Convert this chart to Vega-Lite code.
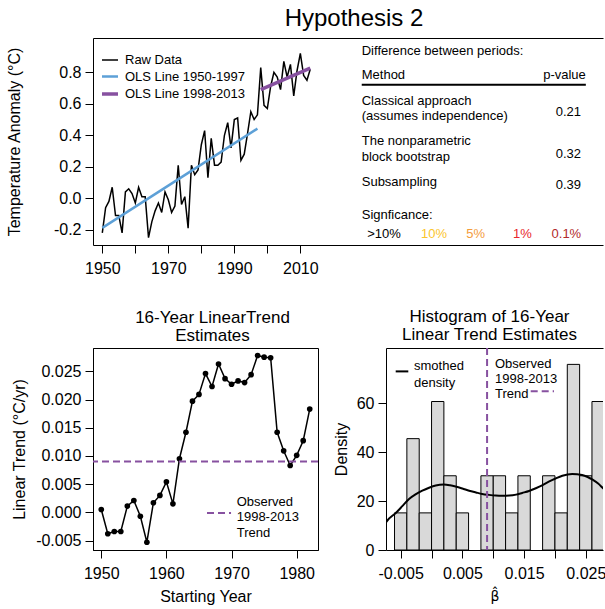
{
  "$schema": "https://vega.github.io/schema/vega-lite/v6.json",
  "padding": {"left": 5, "top": 7, "right": 0, "bottom": 0},
  "background": "white",
  "config": {
    "font": "Liberation Sans",
    "view": {"stroke": null},
    "axis": {"labelFont": "Liberation Sans", "titleFont": "Liberation Sans", "labelFontSize": 16, "titleFontSize": 16, "labelColor": "#000", "titleColor": "#000", "domainColor": "#000", "tickColor": "#000", "tickSize": 8, "grid": false, "titleFontWeight": "normal", "labelPadding": 4, "domainWidth": 1, "tickWidth": 1, "labelFlush": false, "labelOverlap": false, "labelSeparation": 0},
    "axisX": {"labelPadding": 7},
    "axisY": {"labelPadding": 4},
    "title": {"font": "Liberation Sans", "fontWeight": "normal", "color": "#000"},
    "text": {"font": "Liberation Sans", "color": "#000"},
    "legend": {"labelFont": "Liberation Sans", "labelColor": "#000"}
  },
  "bounds": "flush",
  "spacing": 103,
  "vconcat": [
    {
      "width": 510,
      "height": 207,
      "title": {"text": "Hypothesis 2", "fontSize": 24, "dx": 6, "offset": 7},
      "resolve": {"axis": {"x": "independent"}},
      "layer": [
        {
          "data": {"values": [
            {"series": "Raw Data", "year": 1950, "anomaly": -0.22},
            {"series": "Raw Data", "year": 1951, "anomaly": -0.06},
            {"series": "Raw Data", "year": 1952, "anomaly": -0.02},
            {"series": "Raw Data", "year": 1953, "anomaly": 0.07},
            {"series": "Raw Data", "year": 1954, "anomaly": -0.11},
            {"series": "Raw Data", "year": 1955, "anomaly": -0.11},
            {"series": "Raw Data", "year": 1956, "anomaly": -0.22},
            {"series": "Raw Data", "year": 1957, "anomaly": 0.04},
            {"series": "Raw Data", "year": 1958, "anomaly": 0.06},
            {"series": "Raw Data", "year": 1959, "anomaly": 0.03},
            {"series": "Raw Data", "year": 1960, "anomaly": -0.03},
            {"series": "Raw Data", "year": 1961, "anomaly": 0.07},
            {"series": "Raw Data", "year": 1962, "anomaly": 0.01},
            {"series": "Raw Data", "year": 1963, "anomaly": 0.01},
            {"series": "Raw Data", "year": 1964, "anomaly": -0.25},
            {"series": "Raw Data", "year": 1965, "anomaly": -0.15},
            {"series": "Raw Data", "year": 1966, "anomaly": -0.08},
            {"series": "Raw Data", "year": 1967, "anomaly": -0.03},
            {"series": "Raw Data", "year": 1968, "anomaly": -0.09},
            {"series": "Raw Data", "year": 1969, "anomaly": 0.04},
            {"series": "Raw Data", "year": 1970, "anomaly": -0.01},
            {"series": "Raw Data", "year": 1971, "anomaly": -0.09},
            {"series": "Raw Data", "year": 1972, "anomaly": -0.05},
            {"series": "Raw Data", "year": 1973, "anomaly": 0.21},
            {"series": "Raw Data", "year": 1974, "anomaly": -0.04},
            {"series": "Raw Data", "year": 1975, "anomaly": 0.01},
            {"series": "Raw Data", "year": 1976, "anomaly": -0.19},
            {"series": "Raw Data", "year": 1977, "anomaly": 0.21},
            {"series": "Raw Data", "year": 1978, "anomaly": 0.15},
            {"series": "Raw Data", "year": 1979, "anomaly": 0.18},
            {"series": "Raw Data", "year": 1980, "anomaly": 0.34},
            {"series": "Raw Data", "year": 1981, "anomaly": 0.43},
            {"series": "Raw Data", "year": 1982, "anomaly": 0.13},
            {"series": "Raw Data", "year": 1983, "anomaly": 0.38},
            {"series": "Raw Data", "year": 1984, "anomaly": 0.21},
            {"series": "Raw Data", "year": 1985, "anomaly": 0.21},
            {"series": "Raw Data", "year": 1986, "anomaly": 0.23},
            {"series": "Raw Data", "year": 1987, "anomaly": 0.40},
            {"series": "Raw Data", "year": 1988, "anomaly": 0.48},
            {"series": "Raw Data", "year": 1989, "anomaly": 0.32},
            {"series": "Raw Data", "year": 1990, "anomaly": 0.50},
            {"series": "Raw Data", "year": 1991, "anomaly": 0.51},
            {"series": "Raw Data", "year": 1992, "anomaly": 0.24},
            {"series": "Raw Data", "year": 1993, "anomaly": 0.28},
            {"series": "Raw Data", "year": 1994, "anomaly": 0.41},
            {"series": "Raw Data", "year": 1995, "anomaly": 0.55},
            {"series": "Raw Data", "year": 1996, "anomaly": 0.50},
            {"series": "Raw Data", "year": 1997, "anomaly": 0.53},
            {"series": "Raw Data", "year": 1998, "anomaly": 0.83},
            {"series": "Raw Data", "year": 1999, "anomaly": 0.59},
            {"series": "Raw Data", "year": 2000, "anomaly": 0.57},
            {"series": "Raw Data", "year": 2001, "anomaly": 0.71},
            {"series": "Raw Data", "year": 2002, "anomaly": 0.80},
            {"series": "Raw Data", "year": 2003, "anomaly": 0.77},
            {"series": "Raw Data", "year": 2004, "anomaly": 0.69},
            {"series": "Raw Data", "year": 2005, "anomaly": 0.87},
            {"series": "Raw Data", "year": 2006, "anomaly": 0.77},
            {"series": "Raw Data", "year": 2007, "anomaly": 0.85},
            {"series": "Raw Data", "year": 2008, "anomaly": 0.65},
            {"series": "Raw Data", "year": 2009, "anomaly": 0.81},
            {"series": "Raw Data", "year": 2010, "anomaly": 0.92},
            {"series": "Raw Data", "year": 2011, "anomaly": 0.78},
            {"series": "Raw Data", "year": 2012, "anomaly": 0.75},
            {"series": "Raw Data", "year": 2013, "anomaly": 0.82},
            {"series": "OLS Line 1950-1997", "year": 1950, "anomaly": -0.188},
            {"series": "OLS Line 1950-1997", "year": 1997, "anomaly": 0.442},
            {"series": "OLS Line 1998-2013", "year": 1998, "anomaly": 0.69},
            {"series": "OLS Line 1998-2013", "year": 2013, "anomaly": 0.827}
          ]},
          "mark": {"type": "line", "clip": true},
          "encoding": {
            "x": {"field": "year", "type": "quantitative", "scale": {"domain": [1947.18, 2101.7], "nice": false, "zero": false},
                  "axis": {"values": [1950, 1960, 1970, 1980, 1990, 2000, 2010], "labelExpr": "(datum.value - 1950) % 20 == 0 ? format(datum.value, 'd') : ''", "title": null, "labelOverlap": false}},
            "y": {"field": "anomaly", "type": "quantitative", "scale": {"domain": [-0.297, 1.018], "nice": false, "zero": false},
                  "axis": {"values": [-0.2, 0, 0.2, 0.4, 0.6, 0.8], "labelExpr": "replace(format(datum.value, '.1f'), '\u2212', '-')", "title": "Temperature Anomaly (°C)", "titleX": -79, "titleBaseline": "middle", "labelOverlap": false}},
            "color": {"field": "series", "type": "nominal",
                      "scale": {"domain": ["Raw Data", "OLS Line 1950-1997", "OLS Line 1998-2013"], "range": ["#000000", "#5DA0D7", "#8751A0"]},
                      "legend": {"title": null, "orient": "none", "legendX": 7, "legendY": 13, "symbolType": "stroke", "symbolSize": 256, "labelFontSize": 13, "labelOffset": 5, "rowPadding": 0, "padding": 0}},
            "strokeWidth": {"field": "series", "type": "nominal",
                      "scale": {"domain": ["Raw Data", "OLS Line 1950-1997", "OLS Line 1998-2013"], "range": [1.5, 3.5, 3.5]},
                      "legend": {"title": null, "orient": "none", "legendX": 7, "legendY": 13, "symbolType": "stroke", "symbolSize": 256, "labelFontSize": 13, "labelOffset": 5, "rowPadding": 0, "padding": 0}}
          }
        },
        {
          "data": {"values": [{}]},
          "mark": {"type": "rule", "strokeWidth": 2, "color": "#000"},
          "encoding": {
            "x": {"datum": 2028.6, "axis": {"orient": "top", "labels": false, "ticks": false, "title": null, "domain": true}},
            "x2": {"datum": 2096.5},
            "y": {"datum": 0.7215}
          }
        },
        {"data": {"values": [{}]}, "mark": {"type": "text", "align": "left", "baseline": "middle", "fontSize": 13, "text": "Difference between periods:"},
         "encoding": {"x": {"datum": 2028.6, "axis": null}, "y": {"datum": 0.934}}},
        {"data": {"values": [{}]}, "mark": {"type": "text", "align": "left", "baseline": "middle", "fontSize": 13, "text": "Method"},
         "encoding": {"x": {"datum": 2028.6, "axis": null}, "y": {"datum": 0.78}}},
        {"data": {"values": [{}]}, "mark": {"type": "text", "align": "right", "baseline": "middle", "fontSize": 13, "text": "p-value"},
         "encoding": {"x": {"datum": 2096.5, "axis": null}, "y": {"datum": 0.78}}},
        {"data": {"values": [{}]}, "mark": {"type": "text", "align": "left", "baseline": "middle", "fontSize": 13, "lineHeight": 14.5, "text": ["Classical approach", "(assumes independence)"]},
         "encoding": {"x": {"datum": 2028.6, "axis": null}, "y": {"datum": 0.617}}},
        {"data": {"values": [{}]}, "mark": {"type": "text", "align": "right", "baseline": "middle", "fontSize": 13, "text": "0.21"},
         "encoding": {"x": {"datum": 2095.06, "axis": null}, "y": {"datum": 0.547}}},
        {"data": {"values": [{}]}, "mark": {"type": "text", "align": "left", "baseline": "middle", "fontSize": 13, "lineHeight": 15.5, "text": ["The nonparametric", "block bootstrap"]},
         "encoding": {"x": {"datum": 2028.6, "axis": null}, "y": {"datum": 0.361}}},
        {"data": {"values": [{}]}, "mark": {"type": "text", "align": "right", "baseline": "middle", "fontSize": 13, "text": "0.32"},
         "encoding": {"x": {"datum": 2095.06, "axis": null}, "y": {"datum": 0.283}}},
        {"data": {"values": [{}]}, "mark": {"type": "text", "align": "left", "baseline": "middle", "fontSize": 13, "text": "Subsampling"},
         "encoding": {"x": {"datum": 2028.6, "axis": null}, "y": {"datum": 0.102}}},
        {"data": {"values": [{}]}, "mark": {"type": "text", "align": "right", "baseline": "middle", "fontSize": 13, "text": "0.39"},
         "encoding": {"x": {"datum": 2095.06, "axis": null}, "y": {"datum": 0.081}}},
        {"data": {"values": [{}]}, "mark": {"type": "text", "align": "left", "baseline": "middle", "fontSize": 13, "text": "Signficance:"},
         "encoding": {"x": {"datum": 2028.6, "axis": null}, "y": {"datum": -0.105}}},
        {"data": {"values": [{}]}, "mark": {"type": "text", "align": "center", "baseline": "middle", "fontSize": 13, "text": ">10%", "color": "#000000"},
         "encoding": {"x": {"datum": 2035.36, "axis": null}, "y": {"datum": -0.23}}},
        {"data": {"values": [{}]}, "mark": {"type": "text", "align": "center", "baseline": "middle", "fontSize": 13, "text": "10%", "color": "#FBC52D"},
         "encoding": {"x": {"datum": 2050.5, "axis": null}, "y": {"datum": -0.23}}},
        {"data": {"values": [{}]}, "mark": {"type": "text", "align": "center", "baseline": "middle", "fontSize": 13, "text": "5%", "color": "#F39C3C"},
         "encoding": {"x": {"datum": 2063.15, "axis": null}, "y": {"datum": -0.23}}},
        {"data": {"values": [{}]}, "mark": {"type": "text", "align": "center", "baseline": "middle", "fontSize": 13, "text": "1%", "color": "#E8262D"},
         "encoding": {"x": {"datum": 2077.3, "axis": null}, "y": {"datum": -0.23}}},
        {"data": {"values": [{}]}, "mark": {"type": "text", "align": "center", "baseline": "middle", "fontSize": 13, "text": "0.1%", "color": "#B22A2A"},
         "encoding": {"x": {"datum": 2090.6, "axis": null}, "y": {"datum": -0.23}}}
      ]
    },
    {
      "bounds": "flush",
      "spacing": 68,
      "hconcat": [
        {
          "width": 225,
          "height": 202,
          "title": {"text": ["16-Year LinearTrend", "Estimates"], "fontSize": 17, "lineHeight": 18, "dx": 7, "offset": 3},
          "view": {"stroke": "#000", "strokeWidth": 1},
          "resolve": {"axis": {"y": "independent"}},
          "layer": [
            {
              "data": {"values": [
                {"start": 1950, "trend": 0.0005},
                {"start": 1951, "trend": -0.0038},
                {"start": 1952, "trend": -0.0034},
                {"start": 1953, "trend": -0.0034},
                {"start": 1954, "trend": 0.0011},
                {"start": 1955, "trend": 0.0021},
                {"start": 1956, "trend": -0.0007},
                {"start": 1957, "trend": -0.0053},
                {"start": 1958, "trend": 0.0017},
                {"start": 1959, "trend": 0.0030},
                {"start": 1960, "trend": 0.0054},
                {"start": 1961, "trend": 0.0015},
                {"start": 1962, "trend": 0.0095},
                {"start": 1963, "trend": 0.0142},
                {"start": 1964, "trend": 0.0197},
                {"start": 1965, "trend": 0.0209},
                {"start": 1966, "trend": 0.0246},
                {"start": 1967, "trend": 0.0223},
                {"start": 1968, "trend": 0.0263},
                {"start": 1969, "trend": 0.0237},
                {"start": 1970, "trend": 0.0227},
                {"start": 1971, "trend": 0.0233},
                {"start": 1972, "trend": 0.0230},
                {"start": 1973, "trend": 0.0244},
                {"start": 1974, "trend": 0.0278},
                {"start": 1975, "trend": 0.0275},
                {"start": 1976, "trend": 0.0274},
                {"start": 1977, "trend": 0.0142},
                {"start": 1978, "trend": 0.0109},
                {"start": 1979, "trend": 0.0083},
                {"start": 1980, "trend": 0.0101},
                {"start": 1981, "trend": 0.0127},
                {"start": 1982, "trend": 0.0183}
              ]},
              "mark": {"type": "line", "color": "#000", "strokeWidth": 1.5, "point": {"filled": true, "color": "#000", "size": 32, "opacity": 1}},
              "encoding": {
                "x": {"field": "start", "type": "quantitative", "scale": {"domain": [1948.73, 1983.27], "nice": false, "zero": false},
                      "axis": {"values": [1950, 1955, 1960, 1965, 1970, 1975, 1980], "labelExpr": "datum.value % 10 == 0 ? format(datum.value, 'd') : ''", "title": "Starting Year", "titleY": 46, "titleBaseline": "middle", "labelOverlap": false}},
                "y": {"field": "trend", "type": "quantitative", "scale": {"domain": [-0.00668, 0.02913], "nice": false, "zero": false},
                      "axis": {"values": [-0.005, 0.005, 0.015, 0.025], "labelExpr": "replace(format(datum.value, '.3f'), '\u2212', '-')", "title": "Linear Trend (°C/yr)", "titleX": -74, "titleBaseline": "middle", "labelOverlap": false}}
              }
            },
            {
              "data": {"values": [{}]},
              "mark": {"type": "rule", "color": "#8751A0", "strokeWidth": 2, "strokeDash": [7, 4]},
              "encoding": {"y": {"datum": 0.009, "axis": {"orient": "left", "values": [0, 0.01, 0.02], "format": ".3f", "title": null, "domain": false, "labelOverlap": false}}}
            },
            {
              "data": {"values": [{}]},
              "mark": {"type": "rule", "color": "#8751A0", "strokeWidth": 2, "strokeDash": [7, 4]},
              "encoding": {"x": {"datum": 1966.23}, "x2": {"datum": 1969.92}, "y": {"datum": -0.00013, "axis": null}}
            },
            {
              "data": {"values": [{}]},
              "mark": {"type": "text", "align": "left", "baseline": "middle", "fontSize": 13, "lineHeight": 15.2, "text": ["Observed", "1998-2013", "Trend"]},
              "encoding": {"x": {"datum": 1970.79}, "y": {"datum": 0.00179, "axis": null}}
            }
          ]
        },
        {
          "width": 217,
          "height": 202,
          "title": {"text": ["Histogram of 16-Year", "Linear Trend Estimates"], "fontSize": 17, "lineHeight": 18, "dx": -5, "offset": 3},
          "resolve": {"axis": {"x": "independent"}},
          "layer": [
            {
              "data": {"values": [
                {"lo": -0.006, "hi": -0.004, "density": 15.15},
                {"lo": -0.004, "hi": -0.002, "density": 45.45},
                {"lo": -0.002, "hi": 0.0, "density": 15.15},
                {"lo": 0.0, "hi": 0.002, "density": 60.61},
                {"lo": 0.002, "hi": 0.004, "density": 30.30},
                {"lo": 0.004, "hi": 0.006, "density": 15.15},
                {"lo": 0.008, "hi": 0.010, "density": 30.30},
                {"lo": 0.010, "hi": 0.012, "density": 30.30},
                {"lo": 0.012, "hi": 0.014, "density": 15.15},
                {"lo": 0.014, "hi": 0.016, "density": 30.30},
                {"lo": 0.018, "hi": 0.020, "density": 30.30},
                {"lo": 0.020, "hi": 0.022, "density": 15.15},
                {"lo": 0.022, "hi": 0.024, "density": 75.76},
                {"lo": 0.024, "hi": 0.026, "density": 30.30},
                {"lo": 0.026, "hi": 0.028, "density": 60.61}
              ]},
              "mark": {"type": "bar", "fill": "#D9D9D9", "stroke": "#000", "strokeWidth": 1, "clip": true},
              "encoding": {
                "x": {"field": "lo", "type": "quantitative", "scale": {"domain": [-0.007382, 0.027788], "nice": false, "zero": false},
                      "axis": {"values": [-0.005, 0.005, 0.015, 0.025], "labelExpr": "replace(format(datum.value, '.3f'), '\u2212', '-')", "title": "β̂", "titleFont": "DejaVu Sans", "titleFontSize": 14, "titleY": 46, "titleBaseline": "middle", "labelOverlap": false}},
                "x2": {"field": "hi"},
                "y": {"field": "density", "type": "quantitative", "scale": {"domain": [0, 82.45], "nice": false, "zero": true},
                      "axis": {"values": [0, 20, 40, 60], "format": "d", "title": "Density", "titleX": -45, "titleBaseline": "middle", "labelOverlap": false}},
                "y2": {"datum": 0}
              }
            },
            {
              "data": {"values": [
                {"beta": -0.0075, "dens": 10.8},
                {"beta": -0.0073, "dens": 11.6},
                {"beta": -0.0058, "dens": 15.1},
                {"beta": -0.0047, "dens": 18.0},
                {"beta": -0.00365, "dens": 20.8},
                {"beta": -0.0026, "dens": 22.7},
                {"beta": -0.0015, "dens": 24.2},
                {"beta": -0.0004, "dens": 25.4},
                {"beta": 0.00067, "dens": 26.3},
                {"beta": 0.002, "dens": 26.7},
                {"beta": 0.003, "dens": 26.4},
                {"beta": 0.0039, "dens": 25.9},
                {"beta": 0.005, "dens": 25.1},
                {"beta": 0.0061, "dens": 24.2},
                {"beta": 0.0072, "dens": 23.5},
                {"beta": 0.0082, "dens": 22.9},
                {"beta": 0.0093, "dens": 22.5},
                {"beta": 0.0104, "dens": 22.2},
                {"beta": 0.0115, "dens": 22.1},
                {"beta": 0.0126, "dens": 22.2},
                {"beta": 0.0137, "dens": 22.6},
                {"beta": 0.0147, "dens": 23.3},
                {"beta": 0.0158, "dens": 24.1},
                {"beta": 0.0169, "dens": 25.2},
                {"beta": 0.018, "dens": 26.5},
                {"beta": 0.019, "dens": 27.9},
                {"beta": 0.0201, "dens": 29.2},
                {"beta": 0.0212, "dens": 30.3},
                {"beta": 0.0228, "dens": 31.0},
                {"beta": 0.0244, "dens": 30.6},
                {"beta": 0.0253, "dens": 29.8},
                {"beta": 0.0261, "dens": 28.7},
                {"beta": 0.027, "dens": 27.1},
                {"beta": 0.0278, "dens": 25.2},
                {"beta": 0.0285, "dens": 23.6}
              ]},
              "mark": {"type": "line", "color": "#000", "strokeWidth": 2, "clip": true, "interpolate": "monotone"},
              "encoding": {
                "x": {"field": "beta", "type": "quantitative", "axis": {"orient": "bottom", "values": [0, 0.01, 0.02], "labels": false, "domain": false, "title": null, "ticks": true}},
                "y": {"field": "dens", "type": "quantitative"}
              }
            },
            {
              "data": {"values": [{}]},
              "mark": {"type": "rule", "color": "#8751A0", "strokeWidth": 2, "strokeDash": [7, 4]},
              "encoding": {"x": {"datum": 0.009, "axis": null}}
            },
            {
              "data": {"values": [{}]},
              "mark": {"type": "rule", "color": "#000", "strokeWidth": 2},
              "encoding": {
                "x": {"datum": -0.00581, "axis": {"orient": "top", "labels": false, "ticks": false, "title": null, "domain": true}},
                "x2": {"datum": -0.003768},
                "y": {"datum": 72.9}
              }
            },
            {
              "data": {"values": [{}]},
              "mark": {"type": "text", "align": "left", "baseline": "middle", "fontSize": 13, "lineHeight": 16.5, "text": ["smothed", "density"]},
              "encoding": {"x": {"datum": -0.002844, "axis": null}, "y": {"datum": 75.0}}
            },
            {
              "data": {"values": [{}]},
              "mark": {"type": "text", "align": "left", "baseline": "middle", "fontSize": 13, "lineHeight": 15.3, "text": ["Observed", "1998-2013", "Trend"]},
              "encoding": {"x": {"datum": 0.010284, "axis": null}, "y": {"datum": 76.1}}
            },
            {
              "data": {"values": [{}]},
              "mark": {"type": "rule", "color": "#8751A0", "strokeWidth": 2, "strokeDash": [7, 4]},
              "encoding": {"x": {"datum": 0.01607, "axis": null}, "x2": {"datum": 0.019846}, "y": {"datum": 64.8}}
            }
          ]
        }
      ]
    }
  ]
}
